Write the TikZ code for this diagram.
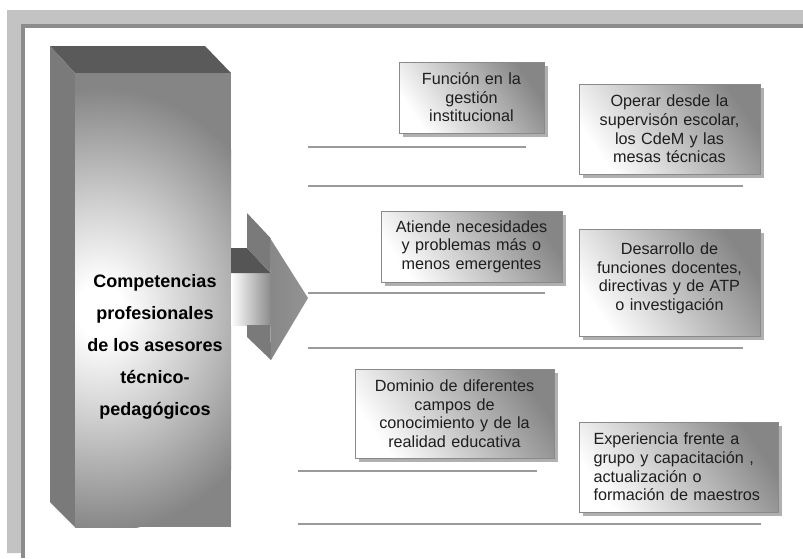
\documentclass[tikz,border=0pt]{standalone}
\usepackage{fontspec}
\setmainfont{Liberation Sans}
\usetikzlibrary{shadows}
\definecolor{framelight}{HTML}{C3C3C3}
\definecolor{framedark}{HTML}{8C8C8C}
\definecolor{topface}{HTML}{5A5A5A}
\definecolor{sideface}{HTML}{7A7A7A}
\definecolor{frontgray}{HTML}{858585}
\definecolor{frontmid}{HTML}{D0D0D0}
\definecolor{notch}{HTML}{555555}
\definecolor{headgray}{HTML}{939393}
\definecolor{rulegray}{HTML}{9A9A9A}
\definecolor{cardedge}{HTML}{8A8A8A}
\definecolor{carddark}{HTML}{868686}
\definecolor{cardtext}{HTML}{1E1E1E}
\definecolor{shadowgray}{HTML}{B0B0B0}
\pgfdeclareradialshading{glow}{\pgfpoint{0bp}{0bp}}{color(0bp)=(white); color(3bp)=(white); color(12bp)=(frontmid); color(25bp)=(frontgray); color(50bp)=(frontgray)}
\begin{document}
\begin{tikzpicture}[x=1pt,y=-1pt,
  card/.style={draw=cardedge, line width=0.8pt, shading=axis, bottom color=white, top color=carddark, shading angle=-55,
    drop shadow={shadow xshift=3.5pt, shadow yshift=-3.5pt, fill=shadowgray, opacity=1},
    inner sep=0pt, text=cardtext, align=center, font=\fontsize{16.2}{18.6}\selectfont},
  rule/.style={draw=rulegray, line width=2pt},
  bigtext/.style={align=center, text=black, font=\bfseries\fontsize{18}{32}\selectfont}]
\fill[white] (0,0) rectangle (803,558);
\useasboundingbox (0,0) rectangle (803,558);
% frame
\fill[framelight] (7,10) -- (803,10) -- (803,24) -- (21,24) -- (21,553) -- (7,553) -- cycle;
\fill[framedark] (21,24) rectangle (803,27.5);
\fill[framedark] (21,24) rectangle (24.5,558);
% 3D block
\fill[topface] (50,46) -- (205,46) -- (231,73) -- (75,73) -- cycle;
\fill[sideface] (50,46) -- (75,73) -- (75,527) -- (50,502) -- cycle;
\fill[frontgray] (75,73) rectangle (231,527);
\begin{scope}
  \clip (75,73) rectangle (231,527);
  \shade[shading=glow] (100,310) ellipse (190 and 222);
\end{scope}
% arrow
\shade[left color=white, right color=headgray!95!black] (231,273) rectangle (270.5,325);
\fill[notch] (231,248) -- (247,248) -- (270.5,273) -- (231,273) -- cycle;
\fill[sideface] (247,213) -- (270.5,238) -- (270.5,273) -- (247,248) -- cycle;
\fill[sideface] (247,325) -- (270.5,325) -- (271,360) -- (247,337) -- cycle;
\shade[left color=headgray!92!black, right color=headgray] (270,238) -- (308,298) -- (271,360) -- cycle;
\node[bigtext] (title) at (155,347) {Competencias\\profesionales\\de los asesores\\técnico-\\pedagógicos};
% rules
\coordinate (r1a) at (308,147); \coordinate (r1b) at (526,147);
\coordinate (r2a) at (308,186); \coordinate (r2b) at (743,186);
\coordinate (r3a) at (308,293); \coordinate (r3b) at (545,293);
\coordinate (r4a) at (308,348); \coordinate (r4b) at (743,348);
\coordinate (r5a) at (298,471); \coordinate (r5b) at (537,471);
\coordinate (r6a) at (298,524); \coordinate (r6b) at (761,524);
\draw[rule] (r1a) -- (r1b);
\draw[rule] (r2a) -- (r2b);
\draw[rule] (r3a) -- (r3b);
\draw[rule] (r4a) -- (r4b);
\draw[rule] (r5a) -- (r5b);
\draw[rule] (r6a) -- (r6b);
% cards
\node[card, minimum width=145pt, minimum height=71pt, text width=138pt] (a) at (471.5,97.5) {Función en la\\gestión\\institucional};
\node[card, minimum width=181pt, minimum height=90pt, text width=174pt] (b) at (669.5,129) {Operar desde la\\supervisón escolar,\\los CdeM y las\\mesas técnicas};
\node[card, minimum width=181pt, minimum height=71pt, text width=174pt] (c) at (471.5,246.5) {Atiende necesidades\\y problemas más o\\menos emergentes};
\node[card, minimum width=181pt, minimum height=107pt, text width=174pt] (d) at (669.5,282.5) {Desarrollo de\\funciones docentes,\\directivas y de ATP\\o investigación\\[-6.6pt]\mbox{}};
\node[card, minimum width=199pt, minimum height=89pt, text width=192pt] (e) at (454.5,413.5) {Dominio de diferentes\\campos de\\conocimiento y de la\\realidad educativa};
\node[card, minimum width=199pt, minimum height=90pt, text width=170pt, align=left] (f) at (678.5,467) {Experiencia frente a\\grupo y capacitación ,\\actualización o\\formación de maestros};
\end{tikzpicture}
\end{document}
